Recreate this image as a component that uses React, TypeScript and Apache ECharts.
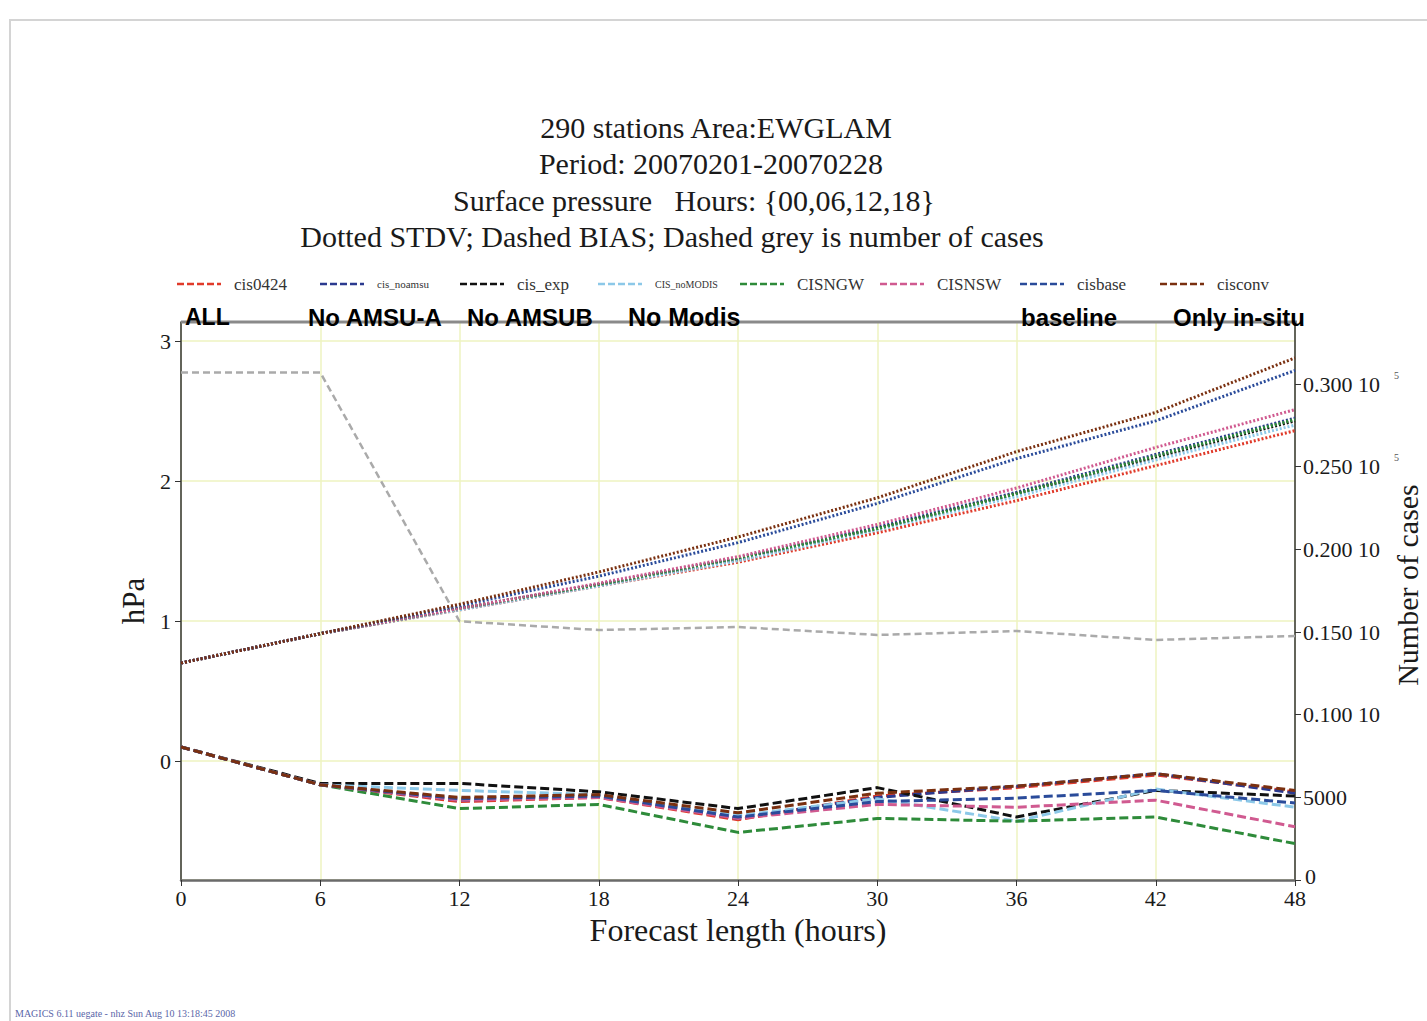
import React, { useEffect, useRef } from "react";
import * as echarts from "echarts";

const hours = [0, 6, 12, 18, 24, 30, 36, 42, 48];
const names = ["cis0424", "cis_noamsu", "cis_exp", "CIS_noMODIS", "CISNGW", "CISNSW", "cisbase", "cisconv"];
const colors = ["#e03a2a", "#2b3a8f", "#111111", "#8cc8e8", "#2e8b3a", "#d05a90", "#2a4b9a", "#7a3010"];

const bias_cis0424 = [0.1, -0.17, -0.29, -0.26, -0.42, -0.25, -0.19, -0.1, -0.22];
const bias_cis_noamsu = [0.1, -0.17, -0.28, -0.25, -0.41, -0.26, -0.18, -0.09, -0.23];
const bias_cis_exp = [0.1, -0.16, -0.16, -0.22, -0.34, -0.19, -0.4, -0.21, -0.25];
const bias_CIS_noMODIS = [0.1, -0.17, -0.21, -0.24, -0.39, -0.27, -0.43, -0.2, -0.33];
const bias_CISNGW = [0.1, -0.17, -0.34, -0.31, -0.51, -0.41, -0.43, -0.4, -0.59];
const bias_CISNSW = [0.1, -0.17, -0.28, -0.26, -0.41, -0.31, -0.33, -0.28, -0.47];
const bias_cisbase = [0.1, -0.17, -0.27, -0.25, -0.4, -0.29, -0.265, -0.21, -0.3];
const bias_cisconv = [0.1, -0.17, -0.26, -0.24, -0.37, -0.23, -0.18, -0.09, -0.21];

const stdv_cis0424 = [0.7, 0.91, 1.08, 1.25, 1.42, 1.63, 1.86, 2.11, 2.36];
const stdv_cis_noamsu = [0.7, 0.91, 1.09, 1.26, 1.45, 1.67, 1.92, 2.19, 2.45];
const stdv_cis_exp = [0.7, 0.91, 1.09, 1.26, 1.44, 1.66, 1.91, 2.17, 2.43];
const stdv_CIS_noMODIS = [0.7, 0.91, 1.08, 1.25, 1.43, 1.65, 1.89, 2.15, 2.4];
const stdv_CISNGW = [0.7, 0.91, 1.09, 1.26, 1.45, 1.66, 1.91, 2.18, 2.44];
const stdv_CISNSW = [0.7, 0.91, 1.09, 1.27, 1.46, 1.69, 1.95, 2.24, 2.51];
const stdv_cisbase = [0.7, 0.91, 1.11, 1.32, 1.56, 1.84, 2.16, 2.43, 2.79];
const stdv_cisconv = [0.7, 0.91, 1.12, 1.35, 1.6, 1.88, 2.21, 2.49, 2.88];

const cases = [30700, 30700, 15650, 15120, 15300, 14820, 15060, 14520, 14760];

const biasAll = [bias_cis0424, bias_cis_noamsu, bias_cis_exp, bias_CIS_noMODIS, bias_CISNGW, bias_CISNSW, bias_cisbase, bias_cisconv];
const stdvAll = [stdv_cis0424, stdv_cis_noamsu, stdv_cis_exp, stdv_CIS_noMODIS, stdv_CISNGW, stdv_CISNSW, stdv_cisbase, stdv_cisconv];

const titleLines = [
  "290 stations Area:EWGLAM",
  "Period: 20070201-20070228",
  "Surface pressure   Hours: {00,06,12,18}",
  "Dotted STDV; Dashed BIAS; Dashed grey is number of cases",
];
const titleCenterX = [716, 711, 694, 672];

const annotations = ["ALL", "No AMSU-A", "No AMSUB", "No Modis", "baseline", "Only in-situ"];
const annotationX = [185, 308, 467, 628, 1021, 1173];
const annotationSize = [23, 24, 24, 25, 24, 24];
const legendX = [177, 320, 460, 598, 740, 880, 1020, 1160];
const legendFont = [17, 11, 17, 10, 17, 17, 17, 17];

const SERIF = "'Liberation Serif', 'DejaVu Serif', serif";
const SANS = "'Liberation Sans', Arial, sans-serif";

export default function App() {
  const ref = useRef<HTMLDivElement>(null);
  useEffect(() => {
    if (!ref.current) return;
    const chart = echarts.init(ref.current, null, { renderer: "svg" });
    const pts = (arr: number[]) => hours.map((h, i) => [h, arr[i]]);
    const series: any[] = [];
    names.forEach((n, k) => {
      series.push({
        name: n + " STDV",
        type: "line",
        data: pts(stdvAll[k]),
        showSymbol: false,
        lineStyle: { color: colors[k], width: 3, type: [2, 2] },
        z: 3,
      });
    });
    names.forEach((n, k) => {
      series.push({
        name: n + " BIAS",
        type: "line",
        data: pts(biasAll[k]),
        showSymbol: false,
        lineStyle: { color: colors[k], width: 3, type: [9, 4] },
        z: 3,
      });
    });
    series.push({
      name: "cases",
      type: "line",
      yAxisIndex: 1,
      data: pts(cases),
      showSymbol: false,
      lineStyle: { color: "#aaaaaa", width: 2.5, type: [7, 4] },
      z: 2,
    });

    const graphic: any[] = [
      { type: "rect", shape: { x: 10, y: 20, width: 1440, height: 1010 }, style: { fill: "none", stroke: "#d4d4d4", lineWidth: 2 }, silent: true },
    ];
    titleLines.forEach((t, i) => {
      graphic.push({
        type: "text",
        x: titleCenterX[i],
        y: 127 + i * 36.5,
        style: { text: t, font: `30px ${SERIF}`, fill: "#1a1a1a", textAlign: "center", textVerticalAlign: "middle" },
      });
    });
    names.forEach((n, k) => {
      graphic.push({
        type: "line",
        shape: { x1: legendX[k], y1: 284, x2: legendX[k] + 44, y2: 284 },
        style: { stroke: colors[k], lineWidth: 2.5, lineDash: [7, 3] },
      });
      graphic.push({
        type: "text",
        x: legendX[k] + 57,
        y: 284,
        style: { text: n, font: `${legendFont[k]}px ${SERIF}`, fill: "#333", textAlign: "left", textVerticalAlign: "middle" },
      });
    });
    graphic.push({
      type: "line",
      shape: { x1: 181, y1: 322, x2: 1297, y2: 322 },
      style: { stroke: "#8a8a8a", lineWidth: 3 },
      z: 1,
    });
    annotations.forEach((a, i) => {
      graphic.push({
        type: "text",
        x: annotationX[i],
        y: 317,
        z: 10,
        style: { text: a, font: `bold ${annotationSize[i]}px ${SANS}`, fill: "#000", textAlign: "left", textVerticalAlign: "middle" },
      });
    });
    graphic.push({
      type: "text",
      x: 1407,
      y: 585,
      rotation: Math.PI / 2,
      style: { text: "Number of cases", font: `30px ${SERIF}`, fill: "#1a1a1a", textAlign: "center", textVerticalAlign: "middle" },
    });
    graphic.push({
      type: "text",
      x: 15,
      y: 1013,
      style: { text: "MAGICS 6.11 uegate - nhz Sun Aug 10 13:18:45 2008", font: `10px ${SERIF}`, fill: "#5a66a8", textAlign: "left", textVerticalAlign: "middle" },
    });

    const rightLabel = (v: number) => {
      if (v === 0) return "{z|0}";
      if (v === 5000) return "5000";
      const s = (v / 100000).toFixed(3);
      if (v >= 25000) return `{a|${s} 10}{s|5}`;
      return `{a|${s} 10}`;
    };

    chart.setOption({
      animation: false,
      backgroundColor: "#ffffff",
      grid: { left: 181, top: 322, width: 1114, height: 558, containLabel: false, outerBoundsMode: "none" },
      xAxis: {
        type: "value",
        min: 0,
        max: 48,
        interval: 6,
        name: "Forecast length (hours)",
        nameLocation: "middle",
        nameGap: 34,
        nameTextStyle: { fontFamily: SERIF, fontSize: 32, color: "#1a1a1a" },
        axisLine: { onZero: false, lineStyle: { color: "#6a6a6a", width: 2.5 } },
        axisTick: { show: true, length: 6, lineStyle: { color: "#333" } },
        axisLabel: { fontFamily: SERIF, fontSize: 22, color: "#1a1a1a", margin: 7 },
        splitLine: { show: true, lineStyle: { color: "#eef3c0", width: 1.5 } },
      },
      yAxis: [
        {
          type: "value",
          min: -0.85,
          max: 3.136,
          splitNumber: 4,
          minInterval: 1,
          maxInterval: 1,
          name: "hPa",
          nameLocation: "middle",
          nameGap: 30,
          nameRotate: 90,
          nameTextStyle: { fontFamily: SERIF, fontSize: 31, color: "#1a1a1a" },
          axisLine: { show: true, onZero: false, lineStyle: { color: "#333", width: 1.5 } },
          axisTick: { show: true, length: 6, lineStyle: { color: "#333" } },
          axisLabel: {
            fontFamily: SERIF,
            fontSize: 22,
            color: "#1a1a1a",
            margin: 10,
            showMinLabel: false,
            showMaxLabel: false,
            formatter: (v: number) => (Math.abs(v - Math.round(v)) < 1e-6 ? String(Math.round(v)) : ""),
          },
          splitLine: { show: true, lineStyle: { color: "#eef3c0", width: 1.5 } },
        },
        {
          type: "value",
          position: "right",
          min: 0,
          max: 33750,
          interval: 5000,
          axisLine: { show: true, onZero: false, lineStyle: { color: "#333", width: 1.5 } },
          axisTick: { show: true, length: 6, lineStyle: { color: "#333" } },
          axisLabel: {
            fontFamily: SERIF,
            fontSize: 22,
            color: "#1a1a1a",
            margin: 8,
            showMaxLabel: false,
            formatter: rightLabel,
            rich: {
              a: { fontFamily: SERIF, fontSize: 22, color: "#1a1a1a" },
              z: { fontFamily: SERIF, fontSize: 22, color: "#1a1a1a", padding: [0, 0, 8, 2] },
              s: { fontFamily: SERIF, fontSize: 10, color: "#555", padding: [0, 0, 18, 14] },
            },
          },
          splitLine: { show: false },
        },
      ],
      series,
      graphic,
    });
    return () => chart.dispose();
  }, []);
  return <div ref={ref} style={{ position: "absolute", left: 0, top: 0, width: 1427, height: 1021 }} />;
}
